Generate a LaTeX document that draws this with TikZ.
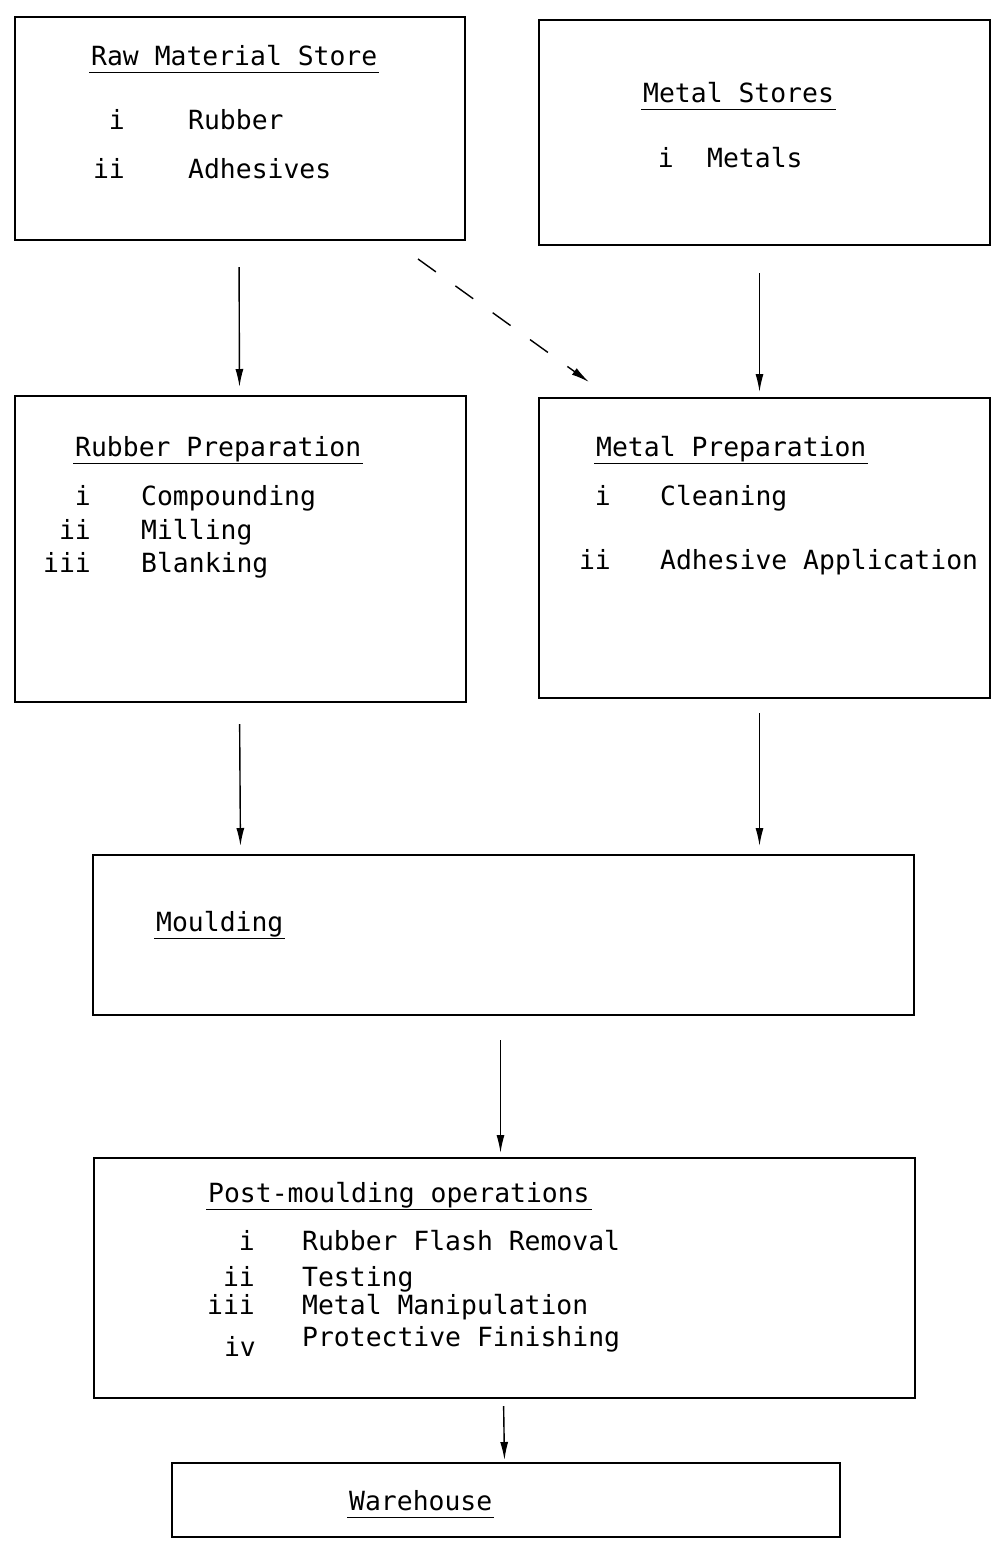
\documentclass[tikz,border=0pt]{standalone}
\usepackage{fontspec}
\newfontfamily\plantfont{DejaVu Sans Mono}
\usetikzlibrary{arrows.meta}
\newcommand{\heading}[1]{\underline{\kern2pt#1\kern2pt\vphantom{g}}}

\begin{document}
\begin{tikzpicture}[x=1pt,y=-1pt,
  box/.style={draw,line width=1.7pt,anchor=north west,inner sep=0pt,outer sep=0pt},
  txt/.style={anchor=base west,inner sep=0pt,font=\plantfont\fontsize{26.4}{30}\selectfont},
  num/.style={txt,anchor=base east},
  flow/.style={line width=1.4pt,-{Latex[length=18pt,width=8pt]}}]
  \useasboundingbox (0,0) rectangle (991,1550);
  % boxes
  \node[box,minimum width=450pt,minimum height=223pt] (raw) at (15,17) {};
  \node[box,minimum width=451pt,minimum height=225pt] (metstore) at (539,20) {};
  \node[box,minimum width=451pt,minimum height=306pt] (rubprep) at (15,396) {};
  \node[box,minimum width=451pt,minimum height=300pt] (metprep) at (539,398) {};
  \node[box,minimum width=821pt,minimum height=160pt] (mould) at (93,855) {};
  \node[box,minimum width=821pt,minimum height=240pt] (post) at (94,1158) {};
  \node[box,minimum width=668pt,minimum height=74pt] (ware) at (172,1463) {};
  % raw material store
  \node[txt] (rawhd) at (89,65) {\heading{Raw Material Store}};
  \node[num] (rawi) at (125,129) {i};
  \node[txt] (rawa) at (188,129) {Rubber};
  \node[num] (rawii) at (125,178) {ii};
  \node[txt] (rawb) at (188,178) {Adhesives};
  % metal stores
  \node[txt] (msthd) at (641,102) {\heading{Metal Stores}};
  \node[num] (msti) at (674,167) {i};
  \node[txt] (msta) at (707,167) {Metals};
  % rubber preparation
  \node[txt] (rphd) at (73,456) {\heading{Rubber Preparation}};
  \node[num] (rpi) at (91,505) {i};
  \node[txt] (rpa) at (141,505) {Compounding};
  \node[num] (rpii) at (91,539) {ii};
  \node[txt] (rpb) at (141,539) {Milling};
  \node[num] (rpiii) at (91,572) {iii};
  \node[txt] (rpc) at (141,572) {Blanking};
  % metal preparation
  \node[txt] (mphd) at (594,456) {\heading{Metal Preparation}};
  \node[num] (mpi) at (611,505) {i};
  \node[txt] (mpa) at (660,505) {Cleaning};
  \node[num] (mpii) at (611,569) {ii};
  \node[txt] (mpb) at (660,569) {Adhesive Application};
  % moulding
  \node[txt] (mldhd) at (154,931) {\heading{Moulding}};
  % post-moulding
  \node[txt] (pmhd) at (206,1202) {\heading{Post-moulding operations}};
  \node[num] (pmi) at (255,1250) {i};
  \node[txt] (pma) at (302,1250) {Rubber Flash Removal};
  \node[num] (pmii) at (255,1286) {ii};
  \node[txt] (pmb) at (302,1286) {Testing};
  \node[num] (pmiii) at (255,1314) {iii};
  \node[txt] (pmc) at (302,1314) {Metal Manipulation};
  \node[num] (pmiv) at (256,1356) {iv};
  \node[txt] (pmd) at (302,1346) {Protective Finishing};
  % warehouse
  \node[txt] (whhd) at (347,1510) {\heading{Warehouse}};
  % flows
  \draw[flow,shorten <=27pt,shorten >=9pt] ([xshift=-1pt]raw.south) -- ([xshift=-1pt]rubprep.north);
  \draw[flow,shorten <=28pt,shorten >=6pt] ([xshift=-5pt]metstore.south) -- ([xshift=-5pt]metprep.north);
  \draw[flow,dashed,dash pattern=on 22pt off 24pt] ([shift={(-47pt,-19pt)}]raw.south east) -- ([shift={(50pt,16pt)}]metprep.north west);
  \draw[flow,shorten <=22pt,shorten >=9pt] ([xshift=-1pt]rubprep.south) -- (rubprep.south |- mould.north);
  \draw[flow,shorten <=15pt,shorten >=9pt] ([xshift=-5pt]metprep.south) -- ([xshift=-5pt]metprep.south |- mould.north);
  \draw[flow,shorten <=25pt,shorten >=5pt] ([xshift=-3pt]mould.south) -- ([xshift=-4pt]post.north);
  \draw[flow,shorten <=8pt,shorten >=3pt] ([xshift=-1pt]post.south) -- (post.south |- ware.north);
\end{tikzpicture}
\end{document}
